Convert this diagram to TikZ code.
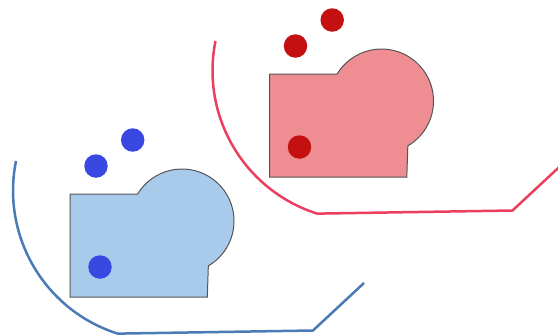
\documentclass[tikz,border=0pt]{standalone}
\definecolor{bfill}{HTML}{A8CBEC}
\definecolor{rfill}{HTML}{EE8E93}
\definecolor{bdot}{HTML}{3A48E2}
\definecolor{rdot}{HTML}{C41010}
\definecolor{bline}{HTML}{4A7BB7}
\definecolor{rline}{HTML}{EC3F60}
\definecolor{edge}{HTML}{555555}
\tikzset{
  room/.style={draw=edge, line width=1pt},
  wall/.style={line width=2.5pt, line join=round},
  dot/.style={circle, inner sep=0pt, minimum size=23.5pt},
}
\newcommand{\myunit}[3]{%
  \begin{scope}[shift={(#1)}]
    \fill[#2] (70,194) -- (137.6,194)
      arc[start angle=211.3, end angle=419.6, radius=52]
      -- (207.3,297) -- (70,297) -- cycle;
    \draw[room] (70,194) -- (137.6,194)
      arc[start angle=211.3, end angle=419.6, radius=52]
      -- (207.3,297) -- (70,297) -- cycle;
    \node[dot, fill=#3] at (96,166) {};
    \node[dot, fill=#3] at (132.7,140) {};
    \node[dot, fill=#3] at (100,267) {};
  \end{scope}}
\begin{document}
\begin{tikzpicture}[x=1pt, y=-1pt]
\useasboundingbox (0,0) rectangle (558,335);
\clip (0,0) rectangle (558,335);
\fill[white] (0,0) rectangle (558,335);
% blue unit
\draw[wall, bline] (16,161) arc[start angle=191.4, end angle=107.6, radius=150]
  -- (313,330.5) -- (364,283);
\myunit{0,0}{bfill}{bdot}
% red unit
\draw[wall, rline] (215.5,41) arc[start angle=191.4, end angle=107.6, radius=150]
  -- (512.5,210.5) -- (570,157);
\myunit{199.5,-120}{rfill}{rdot}
\end{tikzpicture}
\end{document}
